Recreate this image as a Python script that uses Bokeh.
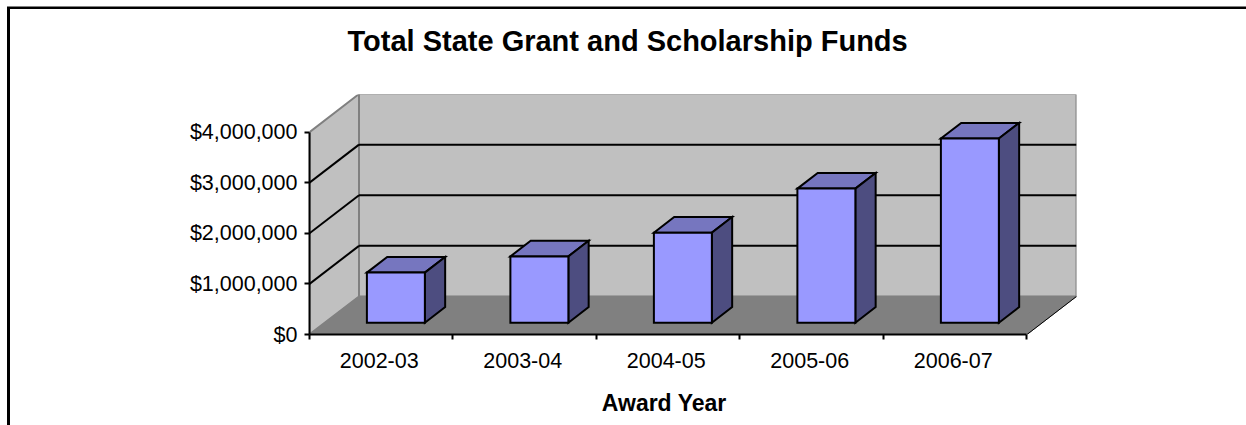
from bokeh.plotting import figure
from bokeh.embed import file_html
from bokeh.resources import INLINE
from bokeh.models import Range1d, LinearAxis, FixedTicker, NumeralTickFormatter, Title

categories = ["2002-03", "2003-04", "2004-05", "2005-06", "2006-07"]
funds = [990000, 1310000, 1780000, 2650000, 3640000]
grid_values = [1000000, 2000000, 3000000, 4000000]
y_ticks = [0, 1000000, 2000000, 3000000, 4000000]

# oblique projection of the chart's depth axis, in x (category) and y (dollar) units
DX, DY = 0.345, 752000
BAR_LEFT, BAR_W = 0.293, 0.404
NEAR, FAR = 0.31, 0.72
n = len(categories)

MX, MY, BL, BT = 7, 7, 3, 2     # outer frame: margins and border thickness
W, H = 1246 - MX, 425 - MY
LEFT, TOP = 309 - MX - BL, 94 - MY - BT
BOTTOM = H - TOP - 240
RIGHT = W - LEFT - 767
p = figure(width=W, height=H, output_backend="svg", toolbar_location=None, title=None,
           x_range=Range1d(0, n + DX), y_range=Range1d(0, 4743000),
           min_border_left=LEFT, min_border_right=RIGHT, min_border_top=TOP, min_border_bottom=BOTTOM,
           x_axis_type=None, y_axis_type=None, outline_line_color=None,
           background_fill_color=None, border_fill_color="white")
p.grid.visible = False

wall, floor_c, edge = "#C0C0C0", "#808080", "#808080"
top_y = max(y_ticks)

# back wall, left wall, floor
p.patch([DX, n + DX, n + DX, DX], [DY, DY, DY + top_y, DY + top_y], fill_color=wall, line_color=edge, line_width=2)
p.patch([0, DX, DX, 0], [0, DY, DY + top_y, top_y], fill_color=wall, line_color=edge, line_width=2)
p.patch([0, n, n + DX, DX], [0, 0, DY, DY], fill_color=floor_c, line_color=edge, line_width=1)
p.line([n, n + DX], [0, DY], line_color="black", line_width=1)

# gridlines across left wall and back wall
for g in grid_values[:-1]:
    p.line([DX, n + DX], [g + DY, g + DY], line_color="black", line_width=2)
    p.line([0, DX], [g, g + DY], line_color="black", line_width=2)

# 3-D columns
for i, v in enumerate(funds):
    x0 = i + BAR_LEFT + NEAR * DX
    x1 = x0 + BAR_W
    y0 = NEAR * DY
    d = (FAR - NEAR)
    ox, oy = d * DX, d * DY
    p.patch([x0, x1, x1 + ox, x0 + ox], [y0 + v, y0 + v, y0 + v + oy, y0 + v + oy],
            fill_color="#7676BF", line_color="black", line_width=2, line_join="miter")
    p.patch([x1, x1 + ox, x1 + ox, x1], [y0, y0 + oy, y0 + v + oy, y0 + v],
            fill_color="#4D4D80", line_color="black", line_width=2, line_join="miter")
    p.patch([x0, x1, x1, x0], [y0, y0, y0 + v, y0 + v],
            fill_color="#9999FF", line_color="black", line_width=2, line_join="miter")

FONT = "Liberation Sans"
yax = LinearAxis(ticker=FixedTicker(ticks=y_ticks), bounds=(0, top_y),
                 formatter=NumeralTickFormatter(format="$0,0"))
yax.major_tick_in = 0
yax.major_tick_out = 5
yax.minor_tick_line_color = None
yax.axis_line_color = "black"
yax.axis_line_width = 2
yax.major_tick_line_width = 2
yax.major_label_text_font = FONT
yax.major_label_text_font_size = "21.5px"
yax.major_label_text_color = "black"
yax.major_label_standoff = 7
p.add_layout(yax, "left")

label_pos = [round(i + 0.486, 3) for i in range(n)]
xax = LinearAxis(ticker=FixedTicker(ticks=label_pos, minor_ticks=list(range(n + 1))),
                 bounds=(0, n),
                 major_label_overrides=dict(zip(label_pos, categories)),
                 axis_label="Award Year" + "\u00a0" * 9)
xax.major_tick_line_color = None
xax.minor_tick_in = 0
xax.minor_tick_out = 5
xax.minor_tick_line_color = "black"
xax.minor_tick_line_width = 2
xax.axis_line_color = "black"
xax.axis_line_width = 2
xax.major_label_text_font = FONT
xax.major_label_text_font_size = "21.5px"
xax.major_label_text_color = "black"
xax.major_label_standoff = 12
xax.axis_label_text_font = FONT
xax.axis_label_text_font_size = "23px"
xax.axis_label_text_font_style = "bold"
xax.axis_label_text_color = "black"
xax.axis_label_standoff = 19
p.add_layout(xax, "below")

# blank spacer panel lifts the title above the chart area
p.add_layout(Title(text="\u00a0", text_font=FONT, text_font_size="32px", standoff=0), "above")
p.add_layout(Title(text="Total State Grant and Scholarship Funds", text_font=FONT, text_font_size="29px",
                   text_font_style="bold", text_color="black", align="left", offset=38, standoff=0), "above")

# outer chart frame (top and left only)
p.styles = {"margin-left": f"{MX}px", "margin-top": f"{MY}px",
            "border-top": f"{BT}px solid black", "border-left": f"{BL}px solid black",
            "box-shadow": "0 -1px 0 #808080"}

open("out.html", "w").write(file_html(p, INLINE))
